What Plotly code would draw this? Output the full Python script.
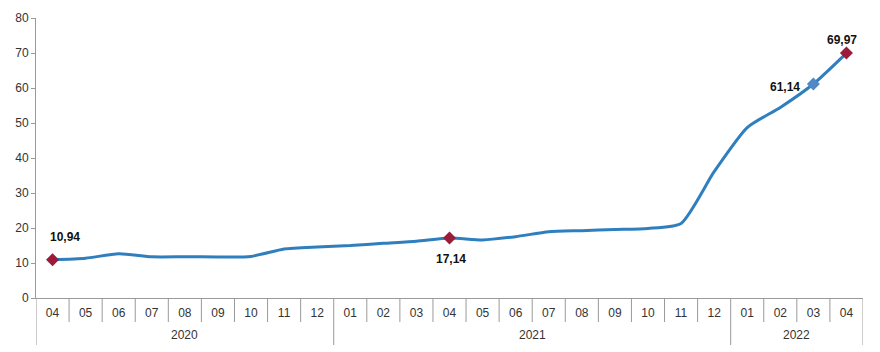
import plotly.graph_objects as go

years = ["2020", "2021", "2022"]
year_counts = [9, 12, 4]
months = ["04", "05", "06", "07", "08", "09", "10", "11", "12",
          "01", "02", "03", "04", "05", "06", "07", "08", "09", "10", "11", "12",
          "01", "02", "03", "04"]
values = [10.94, 11.39, 12.62, 11.76, 11.77, 11.75, 11.89, 14.03, 14.60,
          14.97, 15.61, 16.19, 17.14, 16.59, 17.53, 18.95, 19.25, 19.58, 19.89, 21.31, 36.08,
          48.69, 54.44, 61.14, 69.97]

red_idx = [0, 12, 24]
blue_idx = [23]
# label offsets (px) per labelled point
label_shift = {0: (12, 23), 12: (1, -21), 23: (-28, -3), 24: (-4, 13)}

xs = list(range(len(values)))
plot_h = 352 - 18 - 54
AXC = "#9a9a9a"


def lab(v):
    return f"{v:.2f}".replace(".", ",")


fig = go.Figure()
fig.add_trace(go.Scatter(
    x=xs, y=values, mode="lines",
    line=dict(color="#2F7FBE", width=3, shape="spline", smoothing=0.6),
    hoverinfo="skip", showlegend=False))
fig.add_trace(go.Scatter(
    x=[xs[i] for i in red_idx], y=[values[i] for i in red_idx], mode="markers",
    marker=dict(symbol="diamond", size=10, color="#9B1B3A"), showlegend=False))
fig.add_trace(go.Scatter(
    x=[xs[i] for i in blue_idx], y=[values[i] for i in blue_idx], mode="markers",
    marker=dict(symbol="diamond", size=10, color="#5088C8"), showlegend=False))

for i, (dx, dy) in label_shift.items():
    fig.add_annotation(x=xs[i], y=values[i], text="<b>" + lab(values[i]) + "</b>",
                       showarrow=False, xshift=dx, yshift=dy,
                       font=dict(family="Liberation Sans, Arial", size=12, color="#111"))

# category separators
short = -24 / plot_h
long_ = -47 / plot_h
bounds = []
acc = 0
for c in year_counts:
    acc += c
    bounds.append(acc)
for b in range(0, len(values) + 1):
    is_long = b == 0 or b in bounds
    fig.add_shape(type="line", xref="x", yref="paper",
                  x0=b - 0.5, x1=b - 0.5, y0=0, y1=long_ if is_long else short,
                  line=dict(color=AXC, width=1))

# year labels
start = 0
for y, c in zip(years, year_counts):
    fig.add_annotation(x=start + (c - 1) / 2, y=-37 / plot_h, xref="x", yref="paper",
                       yanchor="middle", text=y, showarrow=False,
                       font=dict(family="Liberation Sans, Arial", size=12, color="#333"))
    start += c

fig.update_layout(
    width=880, height=352,
    margin=dict(l=36, r=17, t=18, b=54),
    paper_bgcolor="white", plot_bgcolor="white",
    font=dict(family="Liberation Sans, Arial", size=12, color="#333"),
)
fig.update_yaxes(range=[0, 80], dtick=10, showgrid=False, zeroline=False,
                 showline=True, linecolor=AXC, linewidth=1,
                 ticks="outside", ticklen=4, tickcolor=AXC,
                 tickfont=dict(size=12, color="#333"))
fig.update_xaxes(range=[-0.5, len(values) - 0.5], showgrid=False, zeroline=False,
                 showline=True, linecolor=AXC, linewidth=1,
                 tickvals=xs, ticktext=months, ticks="outside", ticklen=4,
                 tickcolor="rgba(0,0,0,0)",
                 tickfont=dict(size=12, color="#333"))

fig.write_html("out.html")
